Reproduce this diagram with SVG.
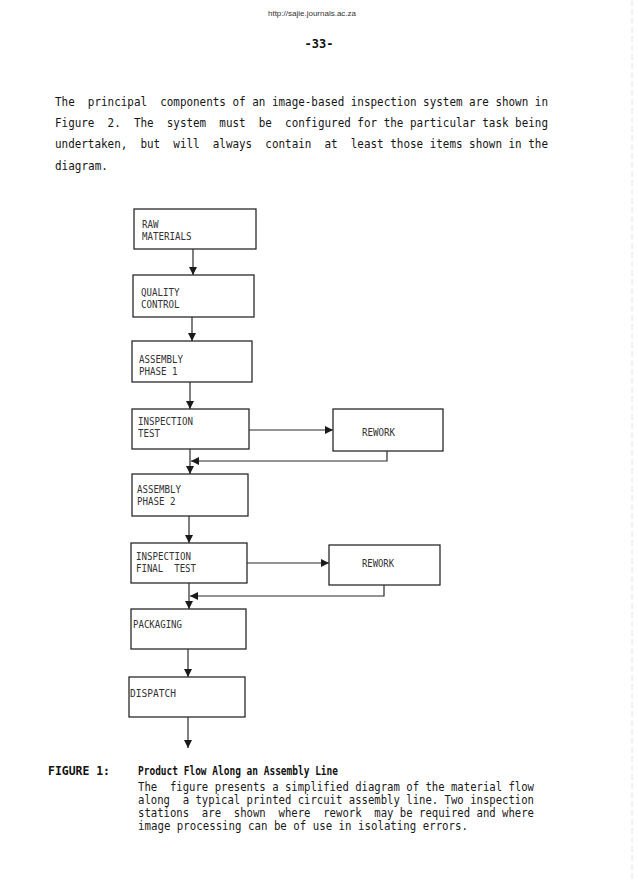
<svg xmlns="http://www.w3.org/2000/svg" width="638" height="891" viewBox="0 0 638 891">
<style>
.para{font-family:"DejaVu Sans Mono","Liberation Mono",monospace;font-size:12.5px;fill:#151515;white-space:pre}
.cap{font-family:"DejaVu Sans Mono","Liberation Mono",monospace;font-size:11.5px;fill:#1a1a1a;white-space:pre}
.capb{font-family:"DejaVu Sans Mono","Liberation Mono",monospace;font-size:12px;font-weight:bold;fill:#111;white-space:pre}
.lbl{font-family:"DejaVu Sans Mono","Liberation Mono",monospace;font-size:10.2px;fill:#333;white-space:pre}
.box{fill:#fff;stroke:#2a2a2a;stroke-width:1.3}
.con{fill:none;stroke:#2a2a2a;stroke-width:1.2}
</style>
<defs>
<marker id="ah" viewBox="0 0 10 10" refX="10" refY="5" markerWidth="8" markerHeight="8" markerUnits="userSpaceOnUse" orient="auto">
<path d="M0,0 L10,5 L0,10 z" fill="#1a1a1a"/>
</marker>
</defs>
<rect width="638" height="891" fill="#fff"/>
<line x1="632" y1="0" x2="632" y2="880" stroke="#e2e2e2" stroke-width="1" stroke-dasharray="6 3"/>

<text x="312" y="16" text-anchor="middle" font-family="Liberation Sans, Arial, sans-serif" font-size="8" fill="#333">http://sajie.journals.ac.za</text>
<text x="319" y="48" text-anchor="middle" class="capb" font-size="11.5">-33-</text>

<g id="intro">
<text class="para" x="55" y="106" textLength="493" lengthAdjust="spacingAndGlyphs">The  principal  components of an image-based inspection system are shown in</text>
<text class="para" x="55" y="127" textLength="493" lengthAdjust="spacingAndGlyphs">Figure  2.  The  system  must  be  configured for the particular task being</text>
<text class="para" x="55" y="148" textLength="493" lengthAdjust="spacingAndGlyphs">undertaken,  but  will  always  contain  at  least those items shown in the</text>
<text class="para" x="55" y="170" textLength="53" lengthAdjust="spacingAndGlyphs">diagram.</text>
</g>

<g id="connectors">
<line class="con" x1="193" y1="249" x2="193" y2="275" marker-end="url(#ah)"/>
<line class="con" x1="192" y1="317" x2="192" y2="341" marker-end="url(#ah)"/>
<line class="con" x1="190" y1="382" x2="190" y2="409" marker-end="url(#ah)"/>
<line class="con" x1="249" y1="430" x2="333" y2="430" marker-end="url(#ah)"/>
<polyline class="con" points="387,451 387,461 191,461" marker-end="url(#ah)"/>
<line class="con" x1="190" y1="449" x2="190" y2="474" marker-end="url(#ah)"/>
<line class="con" x1="189" y1="516" x2="189" y2="543" marker-end="url(#ah)"/>
<line class="con" x1="247" y1="563" x2="329" y2="563" marker-end="url(#ah)"/>
<polyline class="con" points="384,585 384,596 190,596" marker-end="url(#ah)"/>
<line class="con" x1="189" y1="583" x2="189" y2="609" marker-end="url(#ah)"/>
<line class="con" x1="188" y1="649" x2="188" y2="677" marker-end="url(#ah)"/>
<line class="con" x1="188" y1="717" x2="188" y2="748" marker-end="url(#ah)"/>
</g>

<g id="raw-materials">
<rect class="box" x="134" y="209" width="122" height="40"/>
<text class="lbl" x="142" y="228" textLength="16.5" lengthAdjust="spacingAndGlyphs">RAW</text>
<text class="lbl" x="142" y="240" textLength="49.5" lengthAdjust="spacingAndGlyphs">MATERIALS</text>
</g>
<g id="quality-control">
<rect class="box" x="133" y="275" width="121" height="42"/>
<text class="lbl" x="141" y="296" textLength="38.5" lengthAdjust="spacingAndGlyphs">QUALITY</text>
<text class="lbl" x="141" y="307.5" textLength="38.5" lengthAdjust="spacingAndGlyphs">CONTROL</text>
</g>
<g id="assembly-phase-1">
<rect class="box" x="132" y="341" width="120" height="41"/>
<text class="lbl" x="139" y="363" textLength="44" lengthAdjust="spacingAndGlyphs">ASSEMBLY</text>
<text class="lbl" x="139" y="374.5" textLength="38.5" lengthAdjust="spacingAndGlyphs">PHASE 1</text>
</g>
<g id="inspection-test">
<rect class="box" x="132" y="409" width="117" height="40"/>
<text class="lbl" x="138" y="425" textLength="55" lengthAdjust="spacingAndGlyphs">INSPECTION</text>
<text class="lbl" x="138" y="436.5" textLength="22" lengthAdjust="spacingAndGlyphs">TEST</text>
</g>
<g id="rework-1">
<rect class="box" x="333" y="409" width="110" height="42"/>
<text class="lbl" x="362" y="436" textLength="33" lengthAdjust="spacingAndGlyphs">REWORK</text>
</g>
<g id="assembly-phase-2">
<rect class="box" x="132" y="474" width="116" height="42"/>
<text class="lbl" x="137" y="493" textLength="44" lengthAdjust="spacingAndGlyphs">ASSEMBLY</text>
<text class="lbl" x="137" y="505" textLength="38.5" lengthAdjust="spacingAndGlyphs">PHASE 2</text>
</g>
<g id="inspection-final-test">
<rect class="box" x="131" y="543" width="116" height="40"/>
<text class="lbl" x="136" y="560" textLength="55" lengthAdjust="spacingAndGlyphs">INSPECTION</text>
<text class="lbl" x="136" y="572" textLength="60" lengthAdjust="spacingAndGlyphs">FINAL  TEST</text>
</g>
<g id="rework-2">
<rect class="box" x="329" y="545" width="111" height="40"/>
<text class="lbl" x="362" y="567" textLength="32" lengthAdjust="spacingAndGlyphs">REWORK</text>
</g>
<g id="packaging">
<rect class="box" x="131" y="609" width="115" height="40"/>
<text class="lbl" x="133" y="628" textLength="49" lengthAdjust="spacingAndGlyphs">PACKAGING</text>
</g>
<g id="dispatch">
<rect class="box" x="129" y="677" width="116" height="40"/>
<text class="lbl" x="130" y="697" textLength="46" lengthAdjust="spacingAndGlyphs">DISPATCH</text>
</g>

<g id="caption">
<text class="capb" x="48" y="775" textLength="62" lengthAdjust="spacingAndGlyphs">FIGURE 1:</text>
<text class="capb" x="138" y="775" textLength="200" lengthAdjust="spacingAndGlyphs">Product Flow Along an Assembly Line</text>
<text class="cap" x="138" y="791" textLength="396" lengthAdjust="spacingAndGlyphs">The  figure presents a simplified diagram of the material flow</text>
<text class="cap" x="138" y="804" textLength="396" lengthAdjust="spacingAndGlyphs">along  a typical printed circuit assembly line. Two inspection</text>
<text class="cap" x="138" y="817" textLength="396" lengthAdjust="spacingAndGlyphs">stations  are  shown  where  rework  may be required and where</text>
<text class="cap" x="138" y="830" textLength="330" lengthAdjust="spacingAndGlyphs">image processing can be of use in isolating errors.</text>
</g>
</svg>
